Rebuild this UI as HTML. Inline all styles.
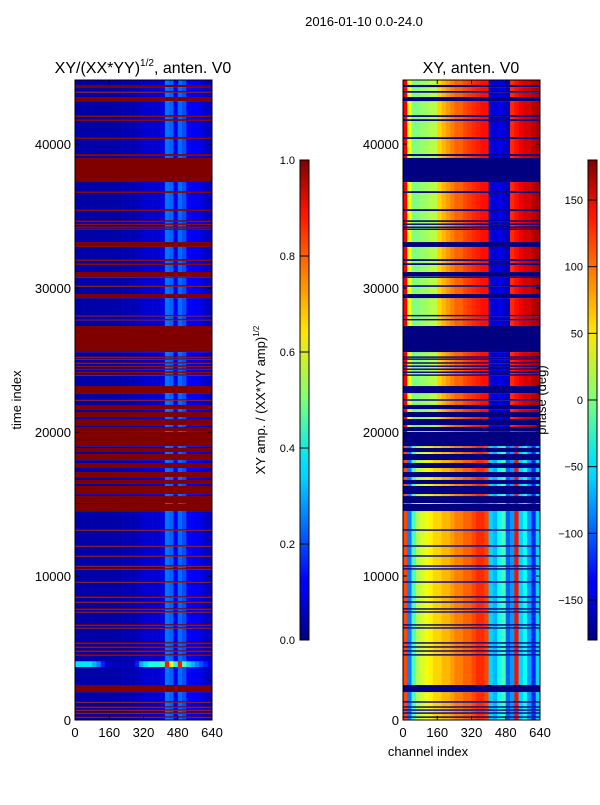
<!DOCTYPE html>
<html><head><meta charset="utf-8">
<style>
body{margin:0;background:#fff;}
svg text{font-family:"Liberation Sans",sans-serif;fill:#000;}
</style></head>
<body>
<svg id="fig" width="600" height="800" viewBox="0 0 600 800" xmlns="http://www.w3.org/2000/svg">
<rect x="0" y="0" width="600" height="800" fill="#fff"/>
<defs>
<linearGradient id="jet" x1="0" y1="1" x2="0" y2="0">
<stop offset="0" stop-color="#00007f"/><stop offset="0.11" stop-color="#0000ff"/><stop offset="0.125" stop-color="#0000ff"/>
<stop offset="0.34" stop-color="#00d4ff"/><stop offset="0.375" stop-color="#00e4f8"/><stop offset="0.5" stop-color="#7dff7a"/>
<stop offset="0.64" stop-color="#ffe600"/><stop offset="0.66" stop-color="#ffd700"/><stop offset="0.89" stop-color="#ff1300"/><stop offset="1" stop-color="#7f0000"/>
</linearGradient>
</defs>
<text x="364" y="26" font-size="13" text-anchor="middle">2016-01-10 0.0-24.0</text>
<text x="143" y="73" font-size="16" text-anchor="middle">XY/(XX*YY)<tspan font-size="10" dy="-7">1/2</tspan><tspan dy="7">, anten. V0</tspan></text>
<text x="471" y="73" font-size="16" text-anchor="middle">XY, anten. V0</text>
<text transform="translate(21,400) rotate(-90)" font-size="13" text-anchor="middle">time index</text>
<text x="428" y="756" font-size="13" text-anchor="middle">channel index</text>
<text transform="translate(265,400) rotate(-90)" font-size="13" text-anchor="middle">XY amp. / (XX*YY amp)<tspan font-size="8" dy="-6">1/2</tspan></text>
<g id="left"></g>
<g id="right"></g>
<g id="axes"></g>
<text transform="translate(546,400) rotate(-90)" font-size="13" text-anchor="middle">phase (deg)</text>
</svg>
<script>
// ---- data ----
const flaggedStart = [43950,43560,42980,41880,41600,40350,39170,37360,36600,35350,34590,34380,34170,34030,32850,31880,31600,30830,30700,30080,29300,28030,27750,25550,25150,25010,24740,24520,24310,24100,23900,22700,22170,21590,21040,20480,20060,19020,18610,18050,17500,16870,16390,15690,15070,14510,13140,12030,11340,10640,10440,9530,9190,8490,8140,7660,7450,6550,6340,5300,5020,4740,4470,1940,1200,850,640,430,150];
const flaggedEnd   = [44100,43680,43260,42000,41720,40470,39300,39030,36720,35470,34700,34480,34270,34130,33190,32000,31720,31110,30810,30190,29580,28130,27850,27360,25250,25110,24840,24620,24410,24200,24000,23190,22270,21880,21390,20900,20350,20000,18890,18470,17850,17220,16670,16250,15550,15000,13240,12130,11440,10740,10540,9630,9190,8590,8240,7760,7550,6650,6440,5400,5120,4840,4570,2430,1300,950,740,530,250];
const channelBins = [0,20,40,60,80,100,120,140,160,180,200,220,240,260,280,300,320,340,360,380,400,420,440,460,480,500,520,540,560,580,600,620];
const ampProfile  = [0.04,0.04,0.04,0.04,0.04,0.04,0.04,0.04,0.04,0.04,0.04,0.05,0.05,0.05,0.06,0.07,0.08,0.08,0.08,0.08,0.10,0.24,0.22,0.11,0.23,0.20,0.11,0.12,0.11,0.10,0.07,0.06];
const phaseUpper  = [140,40,0,0,10,10,20,20,60,70,80,90,100,100,110,115,120,125,130,130,-150,-150,-140,-150,-160,120,130,140,150,150,160,165];
const phaseLower  = [110,-90,-20,20,30,40,50,60,60,70,70,80,90,90,100,100,110,120,120,110,-60,-70,-40,-20,-100,-80,130,-60,-40,-80,-120,-60];
const phaseSplit = 20000;
const burstStart = 3700, burstEnd = 4100;
const burstAmp = [0.35,0.35,0.35,0.35,0.3,0.25,0.15,0.08,0.06,0.06,0.06,0.06,0.06,0.06,0.15,0.3,0.35,0.4,0.4,0.4,0.45,0.85,0.6,0.4,0.85,0.45,0.35,0.3,0.25,0.2,0.15,0.1];
const yTicks = [0,10000,20000,30000,40000];
const xTicks = [0,160,320,480,640];
const ampTicks = [0.0,0.2,0.4,0.6,0.8,1.0];
const phaseTicks = [-150,-100,-50,0,50,100,150];
const tMax = 44444, chMax = 640;
// ---- helpers ----
const NS="http://www.w3.org/2000/svg";
const svg=document.getElementById('fig');
const py0=720, py1=80;
const yS=t=>py0-(t/tMax)*(py0-py1);
const xSL=c=>75+c/chMax*137, xSR=c=>403+c/chMax*137;
function jet(v){v=Math.max(0,Math.min(1,v));const c=x=>Math.round(255*Math.max(0,Math.min(1,1.5-Math.abs(4*v-x))));return `rgb(${c(3)},${c(2)},${c(1)})`;}
function mk(tag,attrs,parent){const e=document.createElementNS(NS,tag);for(const k in attrs)e.setAttribute(k,attrs[k]);(parent||svg).appendChild(e);return e;}
const L=document.getElementById('left'), R=document.getElementById('right');
const idx=flaggedStart.map((s,i)=>i).sort((a,b)=>flaggedStart[a]-flaggedStart[b]);
let rows=[];let cur=0;
idx.forEach(i=>{if(flaggedStart[i]>cur)rows.push([cur,flaggedStart[i]]);cur=Math.max(cur,flaggedEnd[i]);});
if(cur<tMax)rows.push([cur,tMax]);
let rows2=[];
rows.forEach(([a,b])=>{let cuts=[a,b];[burstStart,burstEnd,phaseSplit].forEach(c=>{if(c>a&&c<b)cuts.push(c);});cuts.sort((p,q)=>p-q);for(let k=0;k<cuts.length-1;k++)rows2.push([cuts[k],cuts[k+1]]);});
rows2.forEach(([a,b])=>{
  const burst=a>=burstStart&&b<=burstEnd;
  const upper=a>=phaseSplit;
  channelBins.forEach((c,j)=>{
    const c2=j+1<channelBins.length?channelBins[j+1]:chMax;
    const y=yS(b),h=yS(a)-yS(b);
    const v=burst?burstAmp[j]:ampProfile[j];
    const r1=mk('rect',{x:xSL(c),y:y,width:xSL(c2)-xSL(c)+0.3,height:h+0.3,fill:jet(v)},L);
    
    
    const ph=upper?phaseUpper[j]:phaseLower[j];
    const r2=mk('rect',{x:xSR(c),y:y,width:xSR(c2)-xSR(c)+0.3,height:h+0.3,fill:jet((ph+180)/360)},R);
    
    
  });
});
flaggedStart.forEach((s,i)=>{
  const y=yS(flaggedEnd[i]),h=yS(s)-y;
  const a=mk('rect',{x:75,y:y,width:137,height:h,fill:jet(1)},L);
  
  
  const b=mk('rect',{x:403,y:y,width:137,height:h,fill:jet(0)},R);
  
  
});
const A=document.getElementById('axes');
[75,403].forEach((x0,pi)=>{
  const f=mk('rect',{x:x0,y:80,width:137,height:640,fill:'none',stroke:'#000','stroke-width':1},A);
  
  
  yTicks.forEach(t=>{
    const y=yS(t);
    mk('line',{x1:x0,x2:x0+4,y1:y,y2:y,stroke:'#000'},A);
    mk('line',{x1:x0+137,x2:x0+133,y1:y,y2:y,stroke:'#000'},A);
    const tx=mk('text',{x:x0-4,y:y+5,'font-size':13,'text-anchor':'end'},A);
    tx.textContent=t;
    
    
  });
  xTicks.forEach(c=>{
    const x=x0+c/chMax*137;
    mk('line',{x1:x,x2:x,y1:720,y2:716,stroke:'#000'},A);
    mk('line',{x1:x,x2:x,y1:80,y2:84,stroke:'#000'},A);
    const tx=mk('text',{x:x,y:737,'font-size':13,'text-anchor':'middle'},A);
    tx.textContent=c;
    
    
  });
});
[[300,ampTicks,v=>640-v*480,v=>v.toFixed(1)],[588,phaseTicks,v=>640-(v+180)/360*480,v=>String(v).replace('-','\u2212')]].forEach(([x0,ticks,fy,fmt],k)=>{
  const cb=mk('rect',{x:x0,y:160,width:9,height:480,fill:'url(#jet)',stroke:'#000','stroke-width':1},A);
  
  
  ticks.forEach(v=>{
    const y=fy(v);
    mk('line',{x1:x0,x2:x0+9,y1:y,y2:y,stroke:'#000'},A);
    const tx=mk('text',{x:x0-5,y:y+4,'font-size':11,'text-anchor':'end'},A);
    tx.textContent=fmt(v);
    
    
  });
});
</script>
</body></html>
